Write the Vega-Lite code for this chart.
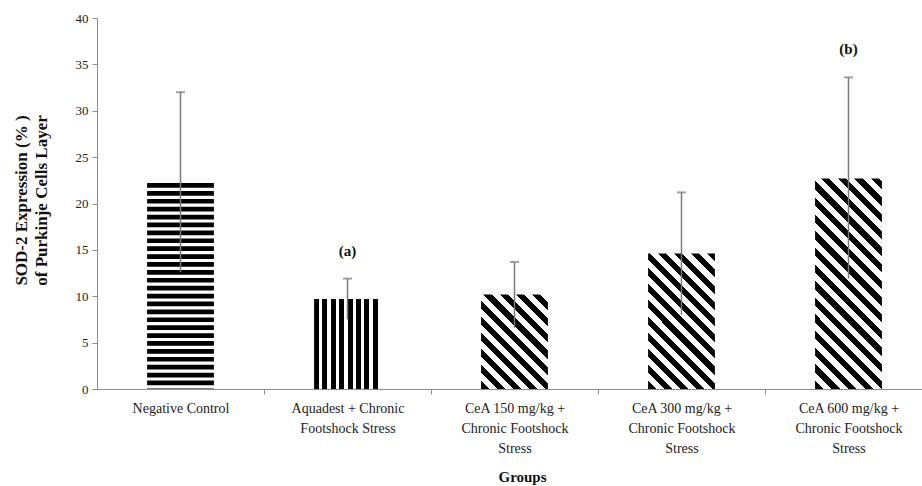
{
  "$schema": "https://vega.github.io/schema/vega-lite/v6.json",
  "autosize": {"type": "none"},
  "padding": {"left": 97, "top": 18, "right": 0, "bottom": 97},
  "width": 825,
  "height": 371,
  "background": "white",
  "config": {
    "view": {"stroke": null},
    "font": "Liberation Serif",
    "axis": {"grid": false, "domainColor": "#8c8c8c", "tickColor": "#8c8c8c", "labelFont": "Liberation Serif", "titleFont": "Liberation Serif", "labelColor": "#222222", "titleColor": "#111111"}
  },
  "data": {
    "values": [
      {"group": "Negative Control", "mean": 22.2, "low": 12.6, "high": 32.0, "sig": null},
      {"group": "Aquadest + Chronic Footshock Stress", "mean": 9.7, "low": 7.5, "high": 11.9, "sig": "(a)"},
      {"group": "CeA 150 mg/kg + Chronic Footshock Stress", "mean": 10.2, "low": 6.6, "high": 13.7, "sig": null},
      {"group": "CeA 300 mg/kg + Chronic Footshock Stress", "mean": 14.6, "low": 8.0, "high": 21.2, "sig": null},
      {"group": "CeA 600 mg/kg + Chronic Footshock Stress", "mean": 22.7, "low": 11.9, "high": 33.6, "sig": "(b)"}
    ]
  },
  "encoding": {
    "x": {
      "field": "group",
      "type": "nominal",
      "scale": {
        "domain": ["Negative Control", "Aquadest + Chronic Footshock Stress", "CeA 150 mg/kg + Chronic Footshock Stress", "CeA 300 mg/kg + Chronic Footshock Stress", "CeA 600 mg/kg + Chronic Footshock Stress"],
        "range": [0, 835],
        "paddingInner": 0.6,
        "paddingOuter": 0.3
      },
      "axis": {
        "title": "Groups",
        "titleFontSize": 15,
        "titleFontWeight": "bold",
        "titleX": 425,
        "titleY": 87,
        "titleBaseline": "middle",
        "titleAlign": "center",
        "labelAngle": 0,
        "labelFontSize": 14,
        "labelLineHeight": 20,
        "labelPadding": 7,
        "labelOverlap": false,
        "labelLimit": 0,
        "tickSize": 5,
        "tickOffset": 83.5,
        "labelOffset": -83.5,
        "labelExpr": "datum.label == 'Negative Control' ? 'Negative Control' : indexof(datum.label, 'Aquadest') == 0 ? ['Aquadest + Chronic', 'Footshock Stress'] : [substring(datum.label, 0, 15), 'Chronic Footshock', 'Stress']"
      }
    }
  },
  "layer": [
    {
      "transform": [{"filter": {"field": "group", "equal": "Negative Control"}}],
      "mark": {"type": "rule", "color": "#000000", "strokeWidth": 66.8, "strokeDash": [4.7, 3.2], "strokeCap": "butt"},
      "encoding": {
        "y": {
          "field": "mean",
          "type": "quantitative",
          "scale": {"domain": [0, 40], "nice": false},
          "axis": {
            "values": [0, 5, 10, 15, 20, 25, 30, 35, 40],
            "tickSize": 5,
            "labelFontSize": 13,
            "labelPadding": 4,
            "title": ["SOD-2  Expression  (%  )", "of Purkinje Cells Layer"],
            "titleFontSize": 17,
            "titleFontWeight": "bold",
            "titleAngle": -90,
            "titleX": -76,
            "titleY": 182,
            "titleBaseline": "middle",
            "titleAlign": "center",
            "titleLineHeight": 20
          }
        },
        "y2": {"datum": 0}
      }
    },
    {
      "transform": [{"filter": {"field": "group", "equal": "Aquadest + Chronic Footshock Stress"}}],
      "mark": {"type": "bar", "fill": {"gradient": "linear", "x1": 0, "y1": 0, "x2": 1, "y2": 0, "stops": [
        {"offset": 0, "color": "#000"}, {"offset": 0.075, "color": "#000"}, {"offset": 0.075, "color": "#fff"}, {"offset": 0.125, "color": "#fff"},
        {"offset": 0.125, "color": "#000"}, {"offset": 0.2, "color": "#000"}, {"offset": 0.2, "color": "#fff"}, {"offset": 0.25, "color": "#fff"},
        {"offset": 0.25, "color": "#000"}, {"offset": 0.325, "color": "#000"}, {"offset": 0.325, "color": "#fff"}, {"offset": 0.375, "color": "#fff"},
        {"offset": 0.375, "color": "#000"}, {"offset": 0.45, "color": "#000"}, {"offset": 0.45, "color": "#fff"}, {"offset": 0.5, "color": "#fff"},
        {"offset": 0.5, "color": "#000"}, {"offset": 0.575, "color": "#000"}, {"offset": 0.575, "color": "#fff"}, {"offset": 0.625, "color": "#fff"},
        {"offset": 0.625, "color": "#000"}, {"offset": 0.7, "color": "#000"}, {"offset": 0.7, "color": "#fff"}, {"offset": 0.75, "color": "#fff"},
        {"offset": 0.75, "color": "#000"}, {"offset": 0.825, "color": "#000"}, {"offset": 0.825, "color": "#fff"}, {"offset": 0.875, "color": "#fff"},
        {"offset": 0.875, "color": "#000"}, {"offset": 0.95, "color": "#000"}, {"offset": 0.95, "color": "#fff"}, {"offset": 1, "color": "#fff"}
      ]}},
      "encoding": {"y": {"field": "mean", "type": "quantitative"}}
    },
    {
      "transform": [{"filter": {"field": "group", "equal": "CeA 150 mg/kg + Chronic Footshock Stress"}}],
      "mark": {"type": "bar", "fill": {"gradient": "linear", "x1": 0, "y1": 1, "x2": 0.804, "y2": -0.139, "stops": [
        {"offset": 0, "color": "#000"}, {"offset": 0.05, "color": "#000"}, {"offset": 0.05, "color": "#fff"}, {"offset": 0.1, "color": "#fff"},
        {"offset": 0.1, "color": "#000"}, {"offset": 0.15, "color": "#000"}, {"offset": 0.15, "color": "#fff"}, {"offset": 0.2, "color": "#fff"},
        {"offset": 0.2, "color": "#000"}, {"offset": 0.25, "color": "#000"}, {"offset": 0.25, "color": "#fff"}, {"offset": 0.3, "color": "#fff"},
        {"offset": 0.3, "color": "#000"}, {"offset": 0.35, "color": "#000"}, {"offset": 0.35, "color": "#fff"}, {"offset": 0.4, "color": "#fff"},
        {"offset": 0.4, "color": "#000"}, {"offset": 0.45, "color": "#000"}, {"offset": 0.45, "color": "#fff"}, {"offset": 0.5, "color": "#fff"},
        {"offset": 0.5, "color": "#000"}, {"offset": 0.55, "color": "#000"}, {"offset": 0.55, "color": "#fff"}, {"offset": 0.6, "color": "#fff"},
        {"offset": 0.6, "color": "#000"}, {"offset": 0.65, "color": "#000"}, {"offset": 0.65, "color": "#fff"}, {"offset": 0.7, "color": "#fff"},
        {"offset": 0.7, "color": "#000"}, {"offset": 0.75, "color": "#000"}, {"offset": 0.75, "color": "#fff"}, {"offset": 0.8, "color": "#fff"},
        {"offset": 0.8, "color": "#000"}, {"offset": 0.85, "color": "#000"}, {"offset": 0.85, "color": "#fff"}, {"offset": 0.9, "color": "#fff"},
        {"offset": 0.9, "color": "#000"}, {"offset": 0.95, "color": "#000"}, {"offset": 0.95, "color": "#fff"}, {"offset": 1, "color": "#fff"}
      ]}},
      "encoding": {"y": {"field": "mean", "type": "quantitative"}}
    },
    {
      "transform": [{"filter": {"field": "group", "equal": "CeA 300 mg/kg + Chronic Footshock Stress"}}],
      "mark": {"type": "bar", "fill": {"gradient": "linear", "x1": 0, "y1": 1, "x2": 0.593, "y2": -0.201, "stops": [
        {"offset": 0, "color": "#000"}, {"offset": 0.04, "color": "#000"}, {"offset": 0.04, "color": "#fff"}, {"offset": 0.08, "color": "#fff"},
        {"offset": 0.08, "color": "#000"}, {"offset": 0.12, "color": "#000"}, {"offset": 0.12, "color": "#fff"}, {"offset": 0.16, "color": "#fff"},
        {"offset": 0.16, "color": "#000"}, {"offset": 0.2, "color": "#000"}, {"offset": 0.2, "color": "#fff"}, {"offset": 0.24, "color": "#fff"},
        {"offset": 0.24, "color": "#000"}, {"offset": 0.28, "color": "#000"}, {"offset": 0.28, "color": "#fff"}, {"offset": 0.32, "color": "#fff"},
        {"offset": 0.32, "color": "#000"}, {"offset": 0.36, "color": "#000"}, {"offset": 0.36, "color": "#fff"}, {"offset": 0.4, "color": "#fff"},
        {"offset": 0.4, "color": "#000"}, {"offset": 0.44, "color": "#000"}, {"offset": 0.44, "color": "#fff"}, {"offset": 0.48, "color": "#fff"},
        {"offset": 0.48, "color": "#000"}, {"offset": 0.52, "color": "#000"}, {"offset": 0.52, "color": "#fff"}, {"offset": 0.56, "color": "#fff"},
        {"offset": 0.56, "color": "#000"}, {"offset": 0.6, "color": "#000"}, {"offset": 0.6, "color": "#fff"}, {"offset": 0.64, "color": "#fff"},
        {"offset": 0.64, "color": "#000"}, {"offset": 0.68, "color": "#000"}, {"offset": 0.68, "color": "#fff"}, {"offset": 0.72, "color": "#fff"},
        {"offset": 0.72, "color": "#000"}, {"offset": 0.76, "color": "#000"}, {"offset": 0.76, "color": "#fff"}, {"offset": 0.8, "color": "#fff"},
        {"offset": 0.8, "color": "#000"}, {"offset": 0.84, "color": "#000"}, {"offset": 0.84, "color": "#fff"}, {"offset": 0.88, "color": "#fff"},
        {"offset": 0.88, "color": "#000"}, {"offset": 0.92, "color": "#000"}, {"offset": 0.92, "color": "#fff"}, {"offset": 0.96, "color": "#fff"},
        {"offset": 0.96, "color": "#000"}, {"offset": 1, "color": "#000"}
      ]}},
      "encoding": {"y": {"field": "mean", "type": "quantitative"}}
    },
    {
      "transform": [{"filter": {"field": "group", "equal": "CeA 600 mg/kg + Chronic Footshock Stress"}}],
      "mark": {"type": "bar", "fill": {"gradient": "linear", "x1": 0, "y1": 1, "x2": 0.38, "y2": -0.197, "stops": [
        {"offset": 0, "color": "#000"}, {"offset": 0.03, "color": "#000"}, {"offset": 0.03, "color": "#fff"}, {"offset": 0.06, "color": "#fff"},
        {"offset": 0.06, "color": "#000"}, {"offset": 0.09, "color": "#000"}, {"offset": 0.09, "color": "#fff"}, {"offset": 0.12, "color": "#fff"},
        {"offset": 0.12, "color": "#000"}, {"offset": 0.15, "color": "#000"}, {"offset": 0.15, "color": "#fff"}, {"offset": 0.18, "color": "#fff"},
        {"offset": 0.18, "color": "#000"}, {"offset": 0.21, "color": "#000"}, {"offset": 0.21, "color": "#fff"}, {"offset": 0.24, "color": "#fff"},
        {"offset": 0.24, "color": "#000"}, {"offset": 0.27, "color": "#000"}, {"offset": 0.27, "color": "#fff"}, {"offset": 0.3, "color": "#fff"},
        {"offset": 0.3, "color": "#000"}, {"offset": 0.33, "color": "#000"}, {"offset": 0.33, "color": "#fff"}, {"offset": 0.36, "color": "#fff"},
        {"offset": 0.36, "color": "#000"}, {"offset": 0.39, "color": "#000"}, {"offset": 0.39, "color": "#fff"}, {"offset": 0.42, "color": "#fff"},
        {"offset": 0.42, "color": "#000"}, {"offset": 0.45, "color": "#000"}, {"offset": 0.45, "color": "#fff"}, {"offset": 0.48, "color": "#fff"},
        {"offset": 0.48, "color": "#000"}, {"offset": 0.51, "color": "#000"}, {"offset": 0.51, "color": "#fff"}, {"offset": 0.54, "color": "#fff"},
        {"offset": 0.54, "color": "#000"}, {"offset": 0.57, "color": "#000"}, {"offset": 0.57, "color": "#fff"}, {"offset": 0.6, "color": "#fff"},
        {"offset": 0.6, "color": "#000"}, {"offset": 0.63, "color": "#000"}, {"offset": 0.63, "color": "#fff"}, {"offset": 0.66, "color": "#fff"},
        {"offset": 0.66, "color": "#000"}, {"offset": 0.69, "color": "#000"}, {"offset": 0.69, "color": "#fff"}, {"offset": 0.72, "color": "#fff"},
        {"offset": 0.72, "color": "#000"}, {"offset": 0.75, "color": "#000"}, {"offset": 0.75, "color": "#fff"}, {"offset": 0.78, "color": "#fff"},
        {"offset": 0.78, "color": "#000"}, {"offset": 0.81, "color": "#000"}, {"offset": 0.81, "color": "#fff"}, {"offset": 0.84, "color": "#fff"},
        {"offset": 0.84, "color": "#000"}, {"offset": 0.87, "color": "#000"}, {"offset": 0.87, "color": "#fff"}, {"offset": 0.9, "color": "#fff"},
        {"offset": 0.9, "color": "#000"}, {"offset": 0.93, "color": "#000"}, {"offset": 0.93, "color": "#fff"}, {"offset": 0.96, "color": "#fff"},
        {"offset": 0.96, "color": "#000"}, {"offset": 0.99, "color": "#000"}, {"offset": 0.99, "color": "#fff"}, {"offset": 1, "color": "#fff"}
      ]}},
      "encoding": {"y": {"field": "mean", "type": "quantitative"}}
    },
    {
      "mark": {"type": "rule", "color": "#7a7a7a", "strokeWidth": 1.5},
      "encoding": {
        "y": {"field": "low", "type": "quantitative"},
        "y2": {"field": "high"}
      }
    },
    {
      "mark": {"type": "tick", "color": "#7a7a7a", "size": 9, "thickness": 2, "orient": "horizontal"},
      "encoding": {"y": {"field": "high", "type": "quantitative"}}
    },
    {
      "transform": [{"filter": "datum.sig != null"}],
      "mark": {"type": "text", "font": "Liberation Serif", "fontWeight": "bold", "fontSize": 15, "baseline": "middle", "dy": -28, "color": "#111111"},
      "encoding": {
        "y": {"field": "high", "type": "quantitative"},
        "text": {"field": "sig"}
      }
    }
  ]
}
